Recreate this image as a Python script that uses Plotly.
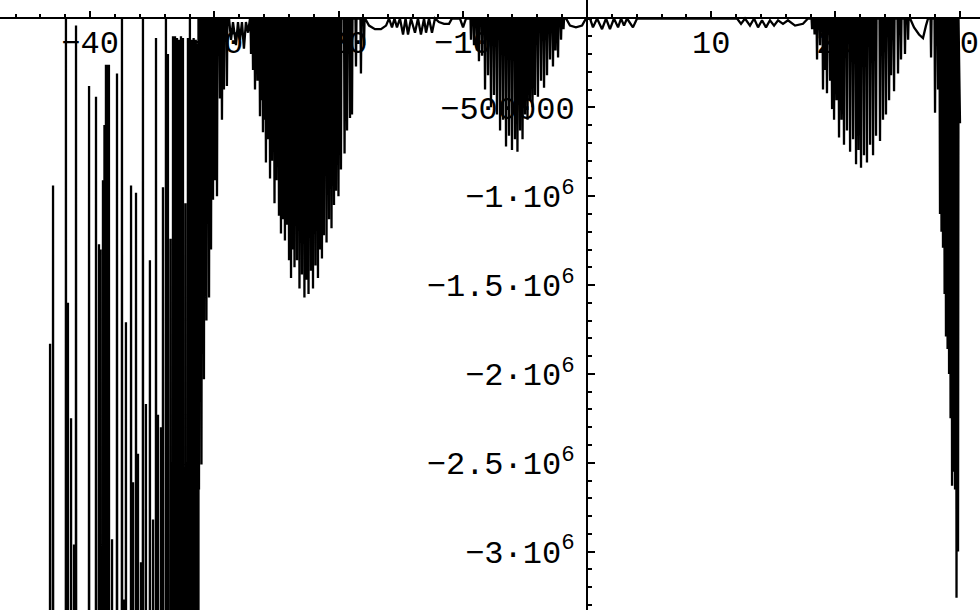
import plotly.graph_objects as go

# ---------------- data (x in axis units, y in millions) ----------------
# far left: peaks rising from far below the visible range
up_x = [-43.23, -42.99, -41.95, -41.79, -41.54, -41.30, -41.14, -40.09, -39.53, -39.29,
        -39.17, -38.97, -38.85, -38.73, -38.61, -38.49, -38.24, -37.84, -37.44, -37.28,
        -37.12, -36.71, -36.55, -36.31, -36.15, -35.91, -35.75, -35.51, -35.19, -34.94,
        -34.70, -34.54, -34.30, -34.14, -33.90, -33.74, -33.53, -33.33, -33.17, -33.01,
        -32.85, -32.69, -32.53, -32.33, -32.13, -31.97, -31.81, -31.67, -31.50, -31.32]
up_y = [-1.83, -0.94, 0.0, -1.60, -2.25, -2.96, -0.04, -0.38, -0.44, -1.27,
        -1.30, -0.91, -0.60, -0.26, -0.26, -0.26, -2.93, -0.31, 0.0, -3.27,
        -1.71, -0.94, -2.61, -0.98, -2.45, -3.06, 0.0, -2.17, -1.36, -2.82,
        -0.11, -2.23, -2.30, -0.95, 0.0, -0.20, -1.24, -0.10, -0.10, -0.11,
        -0.12, -0.10, -0.11, -1.04, -0.11, 0.0, -0.12, -0.11, -0.12, -0.14]
deep_level = -12.0

# downward spikes hanging from the axis
b_x = [-31.24, -31.04, -30.84, -30.64, -30.43, -30.27, -30.11, -29.95, -29.79, -29.55,
       -29.39, -29.23, -28.99]
b_y = [-2.65, -2.51, -2.03, -1.70, -1.57, -1.30, -1.02, -0.91, -1.00, -0.45,
       -0.57, -0.40, -0.38]

c_x = [-28.82, -28.66, -28.50, -28.26, -28.10, -27.94, -27.78, -27.62, -27.46, -27.29, -27.13]
c_y = [0.0, -0.12, -0.02, -0.15, -0.02, -0.12, -0.02, -0.17, -0.02, -0.08, 0.0]

d_x = [-27.05, -26.89, -26.73, -26.53, -26.33, -26.21, -26.09, -25.97, -25.85, -25.68,
       -25.52, -25.36, -25.16, -25.00, -24.80, -24.64, -24.48, -24.32, -24.15, -23.99,
       -23.83, -23.67, -23.55, -23.35, -23.15, -22.95, -22.75, -22.58, -22.42, -22.22,
       -22.06, -21.86, -21.66, -21.50, -21.34, -21.18, -20.97, -20.77, -20.57, -20.37,
       -20.21, -20.01, -19.81, -19.52, -19.32, -19.08, -18.92, -18.60, -18.20, -17.95]
d_y = [-0.20, -0.29, -0.40, -0.35, -0.55, -0.46, -0.64, -0.57, -0.81, -0.68,
       -0.90, -0.80, -1.04, -0.91, -1.11, -1.21, -1.13, -1.25, -1.16, -1.36,
       -1.46, -1.30, -1.40, -1.36, -1.52, -1.44, -1.57, -1.47, -1.55, -1.42,
       -1.52, -1.39, -1.46, -1.30, -1.35, -1.22, -1.26, -1.13, -1.18, -1.05,
       -0.97, -1.00, -0.85, -0.76, -0.63, -0.56, -0.54, -0.27, -0.31, -0.15]

e_x = [-17.87, -17.55, -17.07, -16.59, -16.18, -15.94, -15.70, -15.50, -15.30, -15.06,
       -14.81, -14.61, -14.41, -14.17, -13.85, -13.61, -13.37, -13.12, -12.96, -12.72,
       -12.48, -12.24, -11.92, -11.51, -11.11, -10.87, -10.23, -9.98, -9.74, -9.50]
e_y = [0.0, -0.04, -0.06, -0.06, -0.04, 0.0, -0.05, 0.0, -0.05, 0.0,
       -0.09, 0.0, -0.09, 0.0, -0.08, 0.0, -0.09, 0.0, -0.08, 0.0,
       -0.08, 0.0, -0.02, -0.03, -0.03, 0.0, 0.0, -0.05, 0.0, 0.0]

f_x = [-9.34, -9.10, -8.86, -8.70, -8.45, -8.21, -7.97, -7.73, -7.49, -7.25,
       -7.00, -6.76, -6.52, -6.28, -6.04, -5.80, -5.60, -5.39, -5.19, -4.99,
       -4.79, -4.59, -4.39, -4.19, -3.95, -3.70, -3.46, -3.22, -2.98, -2.74,
       -2.54, -2.33, -2.09, -1.89]
f_y = [-0.12, -0.15, -0.18, -0.24, -0.21, -0.40, -0.32, -0.50, -0.43, -0.54,
       -0.63, -0.57, -0.72, -0.66, -0.74, -0.68, -0.75, -0.63, -0.68, -0.54,
       -0.57, -0.46, -0.50, -0.43, -0.44, -0.35, -0.39, -0.32, -0.23, -0.27,
       -0.18, -0.22, -0.12, -0.06]

g_x = [-1.69, -1.37, -0.89, -0.40, -0.08, 0.24, 0.48, 0.81, 1.21, 1.53,
       1.85, 2.17, 2.50, 2.74, 2.98, 3.22, 3.70, 4.03, 4.27]
g_y = [0.0, -0.04, -0.05, -0.04, 0.0, 0.0, -0.05, 0.0, -0.06, 0.0,
       -0.06, 0.0, -0.05, 0.0, -0.04, 0.0, -0.05, 0.0, 0.0]

h_x = [12.08, 12.40, 12.72, 13.12, 13.45, 13.77, 14.09, 14.41, 14.73, 15.06,
       15.38, 15.78, 16.18, 16.75, 17.39, 17.79]
h_y = [0.0, -0.03, 0.0, -0.04, 0.0, -0.05, -0.01, -0.05, -0.01, -0.04,
       -0.01, -0.03, -0.01, -0.04, -0.03, 0.0]

i_x = [18.12, 18.32, 18.52, 18.76, 19.00, 19.16, 19.32, 19.57, 19.73, 19.89,
       20.09, 20.29, 20.49, 20.69, 20.93, 21.18, 21.42, 21.66, 21.86, 22.06,
       22.30, 22.54, 22.79, 23.03, 23.27, 23.59, 23.83, 24.07, 24.32, 24.48,
       24.72, 25.04, 25.28, 25.60, 25.85]
i_y = [-0.06, -0.09, -0.23, -0.15, -0.40, -0.29, -0.42, -0.35, -0.51, -0.57,
       -0.46, -0.67, -0.57, -0.71, -0.63, -0.75, -0.68, -0.82, -0.74, -0.84,
       -0.77, -0.81, -0.71, -0.77, -0.66, -0.69, -0.57, -0.54, -0.46, -0.32,
       -0.41, -0.31, -0.23, -0.20, -0.12]

j_x = [26.01, 26.33, 26.73, 27.05, 27.29, 27.46]
j_y = [0.0, -0.05, -0.09, -0.11, -0.04, 0.0]

k_x = [27.70, 28.02, 28.26, 28.42, 28.54, 28.66, 28.79, 28.90, 29.03, 29.15,
       29.27, 29.39, 29.51, 29.63, 29.75, 29.87]
k_y = [-0.22, -0.53, -0.40, -1.10, -1.20, -1.29, -1.55, -1.79, -1.86, -2.00,
       -2.25, -2.63, -2.55, -2.65, -3.26, -3.00]
end_x = [30.03]
end_y = [-0.59]

x_tick_vals = [-40, -30, -20, -10, 10, 20, 30]
x_tick_text = ["\u221240", "\u221230", "\u221220", "\u221210", "10", "20", "30"]
y_tick_vals = [-500000, -1000000, -1500000, -2000000, -2500000, -3000000]
y_tick_text = ["\u2212500000", "\u22121\u00b710<sup>6</sup>", "\u22121.5\u00b710<sup>6</sup>",
               "\u22122\u00b710<sup>6</sup>", "\u22122.5\u00b710<sup>6</sup>", "\u22123\u00b710<sup>6</sup>"]

# ---------------- build the polyline ----------------
HW = 0.04          # half width of a sharp spike (drawing detail)
M = 1e6
xs, ys = [], []


def up_spikes(px, py, base):
    for x, y in zip(px, py):
        xs.extend([x - HW, x, x + HW])
        ys.extend([base * M, y * M, base * M])


def down_spikes(px, py):
    for x, y in zip(px, py):
        xs.extend([x - HW, x, x + HW])
        ys.extend([0.0, y * M, 0.0])


def path(px, py):
    for x, y in zip(px, py):
        xs.append(x)
        ys.append(y * M)


up_spikes(up_x, up_y, deep_level)
down_spikes(b_x, b_y)
path(c_x, c_y)
down_spikes(d_x, d_y)
path(e_x, e_y)
down_spikes(f_x, f_y)
path(g_x, g_y)
path(h_x, h_y)
down_spikes(i_x, i_y)
path(j_x, j_y)
down_spikes(k_x, k_y)
path(end_x, end_y)

fig = go.Figure(go.Scatter(x=xs, y=ys, mode="lines",
                           line=dict(color="black", width=2.3, simplify=False),
                           hoverinfo="skip", showlegend=False))

X0, X1 = -47.26, 31.64
Y0, Y1 = -3.3287e6, 0.1041e6
font = dict(family="Liberation Mono, Courier New, monospace", size=32, color="black")

fig.update_layout(
    width=980, height=610, autosize=False,
    margin=dict(l=0, r=0, t=0, b=0),
    paper_bgcolor="white", plot_bgcolor="white",
    xaxis=dict(range=[X0, X1], anchor="free", position=(0 - Y0) / (Y1 - Y0), side="bottom",
               showline=True, linecolor="black", linewidth=2, zeroline=False, showgrid=False,
               ticks="inside", ticklen=6, tickwidth=1.5, tickcolor="black",
               tickmode="array", tickvals=x_tick_vals, ticktext=x_tick_text,
               minor=dict(ticks="inside", ticklen=3, tickwidth=1.5, tickcolor="black",
                          tickmode="linear", tick0=0, dtick=2),
               tickfont=font, ticklabelstandoff=-5, layer="below traces", fixedrange=True),
    yaxis=dict(range=[Y0, Y1], anchor="free", position=(0 - X0) / (X1 - X0), side="left",
               showline=True, linecolor="black", linewidth=2, zeroline=False, showgrid=False,
               ticks="inside", ticklen=7, tickwidth=1.5, tickcolor="black",
               tickmode="array", tickvals=y_tick_vals, ticktext=y_tick_text,
               minor=dict(ticks="inside", ticklen=4, tickwidth=1.5, tickcolor="black",
                          tickmode="linear", tick0=0, dtick=100000),
               tickfont=font, ticklabelstandoff=5, layer="below traces", fixedrange=True),
)

fig.write_html("out.html", config={"displayModeBar": False},
               post_script="document.body.style.margin='0';document.body.style.overflow='hidden';")
